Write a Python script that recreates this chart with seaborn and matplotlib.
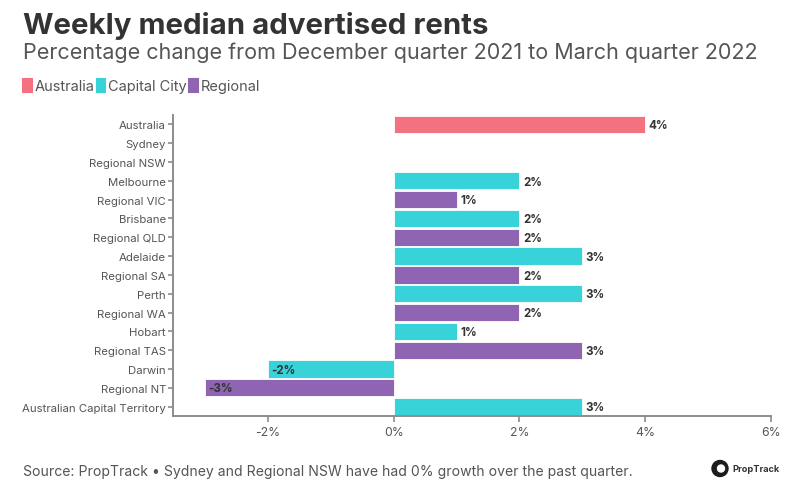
import matplotlib
matplotlib.use("Agg")
import matplotlib.pyplot as plt
import pandas as pd
import seaborn as sns
from matplotlib.patches import Ellipse, Patch

REGIONS = [
    "Australia", "Sydney", "Regional NSW", "Melbourne", "Regional VIC", "Brisbane",
    "Regional QLD", "Adelaide", "Regional SA", "Perth", "Regional WA", "Hobart",
    "Regional TAS", "Darwin", "Regional NT", "Australian Capital Territory",
]
GROUPS = [
    "Australia", "Capital City", "Regional", "Capital City", "Regional", "Capital City",
    "Regional", "Capital City", "Regional", "Capital City", "Regional", "Capital City",
    "Regional", "Capital City", "Regional", "Capital City",
]
CHANGE = [4, 0, 0, 2, 1, 2, 2, 3, 2, 3, 2, 1, 3, -2, -3, 3]
X_TICKS = [-2, 0, 2, 4, 6]
PALETTE = {"Australia": "#f4717f", "Capital City": "#38d3d8", "Regional": "#8f65b3"}

DARK = "#333333"
GREY = "#555555"
AXIS = "#8c8c8c"

sns.set_theme(style="white")
plt.rcParams["font.family"] = ["Inter", "DejaVu Sans"]

df = pd.DataFrame({"region": REGIONS, "group": GROUPS, "change": CHANGE})

fig = plt.figure(figsize=(8, 4.89), dpi=100)
ax = fig.add_axes([173 / 800, 1 - 417 / 489, 598 / 800, 301 / 489])

sns.barplot(
    data=df, y="region", x="change", hue="group", order=REGIONS, palette=PALETTE,
    saturation=1, dodge=False, width=0.92, edgecolor="white", linewidth=0.6, legend=False, ax=ax,
)

for i, v in enumerate(CHANGE):
    if v != 0:
        ax.annotate(f"{v}%", xy=(v, i), xytext=(2.5, -0.5), textcoords="offset points",
                    va="center", ha="left", fontsize=8.3, fontweight="bold", color=DARK)

ax.set_xlim(-3.51, 6)
ax.set_ylim(15.5, -0.5)
ax.set_xticks(X_TICKS)
ax.set_xticklabels([f"{t}%" for t in X_TICKS], fontsize=8.8, color=GREY)
ax.tick_params(axis="x", length=4, width=1.2, color=AXIS, pad=3.5, bottom=True)
ax.tick_params(axis="y", length=3.5, width=1.2, color=AXIS, pad=1.5, left=True, labelsize=8.2, labelcolor=GREY)
ax.set_xlabel("")
ax.set_ylabel("")
sns.despine(ax=ax)
for side in ["left", "bottom"]:
    ax.spines[side].set_color(AXIS)
    ax.spines[side].set_linewidth(1.4)

fig.text(23 / 800, 1 - 26 / 489, "Weekly median advertised rents", fontsize=21.2, fontweight="bold",
         color=DARK, va="center", ha="left")
fig.text(23 / 800, 1 - 53 / 489, "Percentage change from December quarter 2021 to March quarter 2022",
         fontsize=15.5, color=GREY, va="center", ha="left")
fig.text(23 / 800, 1 - 472 / 489, "Source: PropTrack \u2022 Sydney and Regional NSW have had 0% growth over the past quarter.",
         fontsize=10.1, color=GREY, va="center", ha="left")

handles = [Patch(facecolor=c, edgecolor=c, linewidth=1.5, joinstyle="round", label=k) for k, c in PALETTE.items()]
fig.legend(handles=handles, loc="center left", bbox_to_anchor=(23 / 800, 1 - 87 / 489), ncol=3, frameon=False,
           fontsize=10.5, labelcolor=GREY, handlelength=0.6, handleheight=1.0, handletextpad=0.2, columnspacing=0.15,
           borderpad=0, borderaxespad=0)

# logo
fig.add_artist(Ellipse((720 / 800, 1 - 469.5 / 489), width=16 / 800, height=16 / 489, transform=fig.transFigure, color="#1c1c1c"))
fig.add_artist(Ellipse((721 / 800, 1 - 469.5 / 489), width=7 / 800, height=7 / 489, transform=fig.transFigure, color="white"))
fig.text(732 / 800, 1 - 470 / 489, "PropTrack", fontsize=6.6, fontweight="bold", color="#333333", va="center", ha="left")

fig.savefig("out.png", dpi=100)
